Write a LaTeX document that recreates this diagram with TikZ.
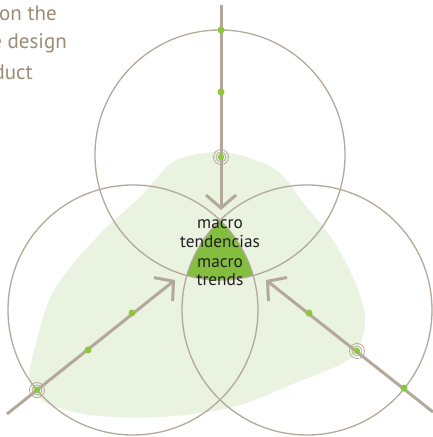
\documentclass[tikz,border=0pt]{standalone}
\usepackage{fontspec}
\setmainfont{PT Sans}
\usetikzlibrary{arrows.meta}
\definecolor{taupe}{RGB}{180,168,154}
\definecolor{txtbrown}{RGB}{155,140,118}
\definecolor{dgreen}{RGB}{132,190,62}
\definecolor{lgreen}{RGB}{234,243,224}
\definecolor{dotgreen}{RGB}{141,198,63}
\definecolor{ink}{RGB}{35,31,32}
\tikzset{
  ring/.style={draw=taupe, line width=1.3pt},
  ray/.style={draw=taupe, line width=3pt, -{Straight Barb[length=13pt,width=30pt]}},
  gdot/.style={circle, fill=dotgreen, inner sep=0pt, minimum size=7pt},
  target/.pic={
    \draw[taupe, line width=0.8pt] (0,0) circle (7.5);
    \draw[taupe, line width=0.8pt] (0,0) circle (5);
    \fill[dotgreen] (0,0) circle (3.2);
  },
  sidetext/.style={text=txtbrown, font=\fontsize{21}{21}\selectfont, inner sep=0pt, anchor=base east},
  centertext/.style={text=ink, font=\fontsize{17.3}{17.3}\selectfont, inner sep=0pt, anchor=base}
}
\begin{document}
\begin{tikzpicture}[x=1pt, y=-1pt]
\useasboundingbox (0,0) rectangle (433,437);
\clip (0,0) rectangle (433,437);
% centres
\coordinate (ct) at (220,155);
\coordinate (cl) at (133,310);
\coordinate (cr) at (307,310);
% light green blob
\fill[lgreen] plot[smooth cycle, tension=0.55] coordinates {
 (221,152) (250,158) (280,173) (305,205) (333,240) (355,282) (365,316)
 (360,345) (345,362) (300,381) (233,407) (160,417) (90,415) (45,402)
 (30,383) (33,355) (53,292) (97,237) (140,197) (170,164) (193,155)};
% triple intersection
\begin{scope}
  \clip (ct) circle (125);
  \clip (cl) circle (125);
  \fill[dgreen] (cr) circle (125);
\end{scope}
% circles
\draw[ring] (ct) circle (125);
\draw[ring] (cl) circle (125);
\draw[ring] (cr) circle (125);
% rays
\coordinate (t0) at (221,5);
\coordinate (t1) at (221,210);
\coordinate (l0) at (7,414);
\coordinate (l1) at (175,280);
\coordinate (r0) at (433,412);
\coordinate (r1) at (266,280);
\draw[ray] (t0) -- (t1);
\draw[ray] (l0) -- (l1);
\draw[ray] (r0) -- (r1);
% markers
\node[gdot] (td1) at (221,30) {};
\node[gdot] (td2) at (221,92) {};
\pic at (221,157) {target};
\pic at (37,390) {target};
\node[gdot] (ld1) at (88,350) {};
\node[gdot] (ld2) at (132,313) {};
\pic at (357,351) {target};
\node[gdot] (rd1) at (309,313) {};
\node[gdot] (rd2) at (404,388) {};
% texts
\node[centertext] (m1) at (220,228) {macro};
\node[centertext] (m2) at (220,247.5) {tendencias};
\node[centertext] (m3) at (220,267) {macro};
\node[centertext] (m4) at (220,285.5) {trends};
\node[sidetext] (s1) at (57,20) {on the};
\node[sidetext] (s2) at (67,48.5) {e design};
\node[sidetext] (s3) at (33,79) {duct};
\end{tikzpicture}
\end{document}
